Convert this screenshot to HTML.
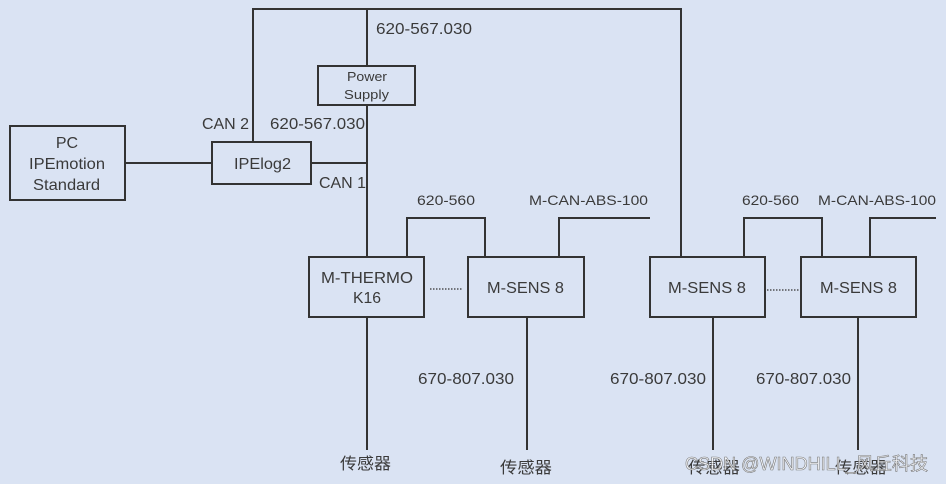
<!DOCTYPE html>
<html>
<head>
<meta charset="utf-8">
<style>
html,body{margin:0;padding:0;background:#dae3f3;}
svg{display:block;}
text{font-family:"Liberation Sans","Noto Sans CJK SC",sans-serif;fill:#3a3a3a;}
</style>
</head>
<body>
<svg width="946" height="484" viewBox="0 0 946 484" xmlns="http://www.w3.org/2000/svg">
<rect x="0" y="0" width="946" height="484" fill="#dae3f3"/>
<g fill="none" stroke="#333" stroke-width="2">
  <polyline points="253,142 253,9 681,9 681,257"/>
  <line x1="367" y1="9" x2="367" y2="66"/>
  <line x1="367" y1="105" x2="367" y2="257"/>
  <line x1="125" y1="163" x2="212" y2="163"/>
  <line x1="311" y1="163" x2="367" y2="163"/>
  <polyline points="407,257 407,218 485,218 485,257"/>
  <polyline points="559,257 559,218 650,218"/>
  <polyline points="744,257 744,218 822,218 822,257"/>
  <polyline points="870,257 870,218 936,218"/>
  <line x1="367" y1="317" x2="367" y2="450"/>
  <line x1="527" y1="317" x2="527" y2="450"/>
  <line x1="713" y1="317" x2="713" y2="450"/>
  <line x1="858" y1="317" x2="858" y2="450"/>
  <rect x="10" y="126" width="115" height="74"/>
  <rect x="318" y="66" width="97" height="39"/>
  <rect x="212" y="142" width="99" height="42"/>
  <rect x="309" y="257" width="115" height="60"/>
  <rect x="468" y="257" width="116" height="60"/>
  <rect x="650" y="257" width="115" height="60"/>
  <rect x="801" y="257" width="115" height="60"/>
</g>
<g stroke="#333" stroke-width="1.2" stroke-dasharray="1.5,1.5">
  <line x1="430" y1="289" x2="463" y2="289"/>
  <line x1="767" y1="290" x2="799" y2="290"/>
</g>
<g font-size="16">
  <text x="376" y="34" textLength="96" lengthAdjust="spacingAndGlyphs">620-567.030</text>
  <text x="347" y="81" font-size="13" textLength="40" lengthAdjust="spacingAndGlyphs">Power</text>
  <text x="344" y="99" font-size="13" textLength="45" lengthAdjust="spacingAndGlyphs">Supply</text>
  <text x="67" y="148" text-anchor="middle">PC</text>
  <text x="29" y="169" textLength="76" lengthAdjust="spacingAndGlyphs">IPEmotion</text>
  <text x="33" y="190" textLength="67" lengthAdjust="spacingAndGlyphs">Standard</text>
  <text x="202" y="129" textLength="47" lengthAdjust="spacingAndGlyphs">CAN 2</text>
  <text x="270" y="129" textLength="95" lengthAdjust="spacingAndGlyphs">620-567.030</text>
  <text x="234" y="169" textLength="57" lengthAdjust="spacingAndGlyphs">IPElog2</text>
  <text x="319" y="188" textLength="47" lengthAdjust="spacingAndGlyphs">CAN 1</text>
  <text x="417" y="205" font-size="14" textLength="58" lengthAdjust="spacingAndGlyphs">620-560</text>
  <text x="742" y="205" font-size="14" textLength="57" lengthAdjust="spacingAndGlyphs">620-560</text>
  <text x="529" y="205" font-size="14" textLength="119" lengthAdjust="spacingAndGlyphs">M-CAN-ABS-100</text>
  <text x="818" y="205" font-size="14" textLength="118" lengthAdjust="spacingAndGlyphs">M-CAN-ABS-100</text>
  <text x="321" y="283" textLength="92" lengthAdjust="spacingAndGlyphs">M-THERMO</text>
  <text x="353" y="303" textLength="28" lengthAdjust="spacingAndGlyphs">K16</text>
  <text x="487" y="293" textLength="77" lengthAdjust="spacingAndGlyphs">M-SENS 8</text>
  <text x="668" y="293" textLength="78" lengthAdjust="spacingAndGlyphs">M-SENS 8</text>
  <text x="820" y="293" textLength="77" lengthAdjust="spacingAndGlyphs">M-SENS 8</text>
  <text x="418" y="384" textLength="96" lengthAdjust="spacingAndGlyphs">670-807.030</text>
  <text x="610" y="384" textLength="96" lengthAdjust="spacingAndGlyphs">670-807.030</text>
  <text x="756" y="384" textLength="95" lengthAdjust="spacingAndGlyphs">670-807.030</text>
  <text x="340" y="469" textLength="51" lengthAdjust="spacingAndGlyphs">传感器</text>
  <text x="500" y="473" textLength="52" lengthAdjust="spacingAndGlyphs">传感器</text>
  <text x="688" y="473" textLength="52" lengthAdjust="spacingAndGlyphs">传感器</text>
  <text x="835" y="473" textLength="52" lengthAdjust="spacingAndGlyphs">传感器</text>
  <text x="685" y="470" font-size="18" textLength="243" lengthAdjust="spacingAndGlyphs" style="fill:rgba(255,255,255,0.75);stroke:#7a7a7a;stroke-width:0.6;">CSDN @WINDHILL_风丘科技</text>
</g>
</svg>
</body>
</html>
